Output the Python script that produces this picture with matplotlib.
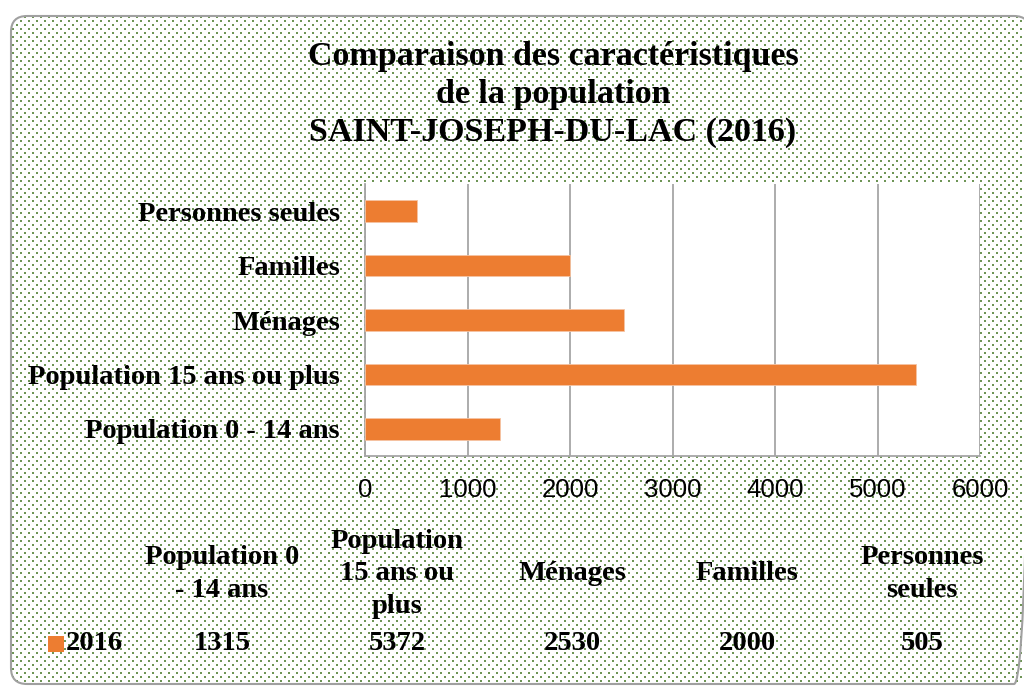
import numpy as np
import matplotlib
matplotlib.use("Agg")
import matplotlib.pyplot as plt
from matplotlib.patches import FancyBboxPatch, Rectangle
import textwrap

# ---- data ----
categories = ["Population 0 - 14 ans", "Population 15 ans ou plus", "Ménages",
              "Familles", "Personnes seules"]
values_2016 = [1315, 5372, 2530, 2000, 505]
series_name = "2016"
title_lines = ["Comparaison des caractéristiques", "de la population",
               "SAINT-JOSEPH-DU-LAC (2016)"]
xticks = [0, 1000, 2000, 3000, 4000, 5000, 6000]

W, H = 1024, 688
BAR = "#ED7D31"
SERIF = "Liberation Serif"
SANS = "Liberation Sans"

fig = plt.figure(figsize=(W / 100, H / 100), dpi=100)
fig.patch.set_facecolor("white")

# background axes in pixel coordinates (y from top)
bg = fig.add_axes([0, 0, 1, 1], zorder=0)
bg.set_xlim(0, W)
bg.set_ylim(H, 0)
bg.axis("off")

# dotted pattern
yy, xx = np.mgrid[0:H, 0:W]
mask = ((yy % 4) < 2) & (((xx + 4 * ((yy // 4) % 2)) % 8) < 2)
img = np.ones((H, W, 4))
dot = np.array([0x4a, 0x7b, 0x2c]) / 255.0
blend = 0.8 * dot + 0.2 * np.ones(3)
img[mask, :3] = blend
box = FancyBboxPatch((11, 16), 1030 - 11, 684 - 16,
                     boxstyle="round,pad=0,rounding_size=16",
                     facecolor="none", edgecolor="#a0a0a0", linewidth=1.5,
                     zorder=3)
bg.add_patch(box)
im = bg.imshow(img, extent=[0, W, H, 0], interpolation="nearest", zorder=1,
               aspect="auto")
im.set_clip_path(box)

# title
for i, line in enumerate(title_lines):
    bg.text(553, 56 + 38 * i, line, ha="center", va="center",
            fontsize=24.5, fontweight="bold", family=SERIF, zorder=5)

# main plot
ax = fig.add_axes([365 / W, 232 / H, 615 / W, 272 / H], zorder=2)
ax.set_facecolor("white")
y = np.arange(len(categories))
ax.barh(y, values_2016, height=0.4, color=BAR, edgecolor="#f6c4a3",
        linewidth=0.6, zorder=3)
ax.set_xlim(0, 6000)
ax.set_ylim(-0.5, len(categories) - 0.5)
ax.set_xticks(xticks)
ax.set_xticklabels([str(t) for t in xticks], fontsize=18.5, family=SANS)
ax.set_yticks(y)
ax.set_yticklabels(categories, fontsize=20.5, fontweight="bold", family=SERIF)
ax.tick_params(axis="both", length=0)
ax.tick_params(axis="x", pad=16)
ax.tick_params(axis="y", pad=18)
ax.grid(axis="x", color="#a6a6a6", linewidth=1.3, zorder=1)
ax.set_axisbelow(True)
for s in ["top", "right"]:
    ax.spines[s].set_visible(False)
for s in ["left", "bottom"]:
    ax.spines[s].set_color("#a6a6a6")
    ax.spines[s].set_linewidth(1.3)

# data table
col_x0, col_dx = 222, 175
for i, (cat, v) in enumerate(zip(categories, values_2016)):
    cx = col_x0 + col_dx * i
    bg.text(cx, 574, "\n".join(textwrap.wrap(cat, 12)), ha="center",
            va="center", fontsize=20.5, fontweight="bold", family=SERIF,
            linespacing=1.4, zorder=5)
    bg.text(cx, 643, str(v), ha="center", va="center", fontsize=20.5,
            fontweight="bold", family=SERIF, zorder=5)

bg.add_patch(Rectangle((48, 636), 16, 16, facecolor=BAR, edgecolor="none",
                       zorder=5))
bg.text(66, 643, series_name, ha="left", va="center", fontsize=20.5,
        fontweight="bold", family=SERIF, zorder=5)

fig.savefig("out.png", dpi=100)
